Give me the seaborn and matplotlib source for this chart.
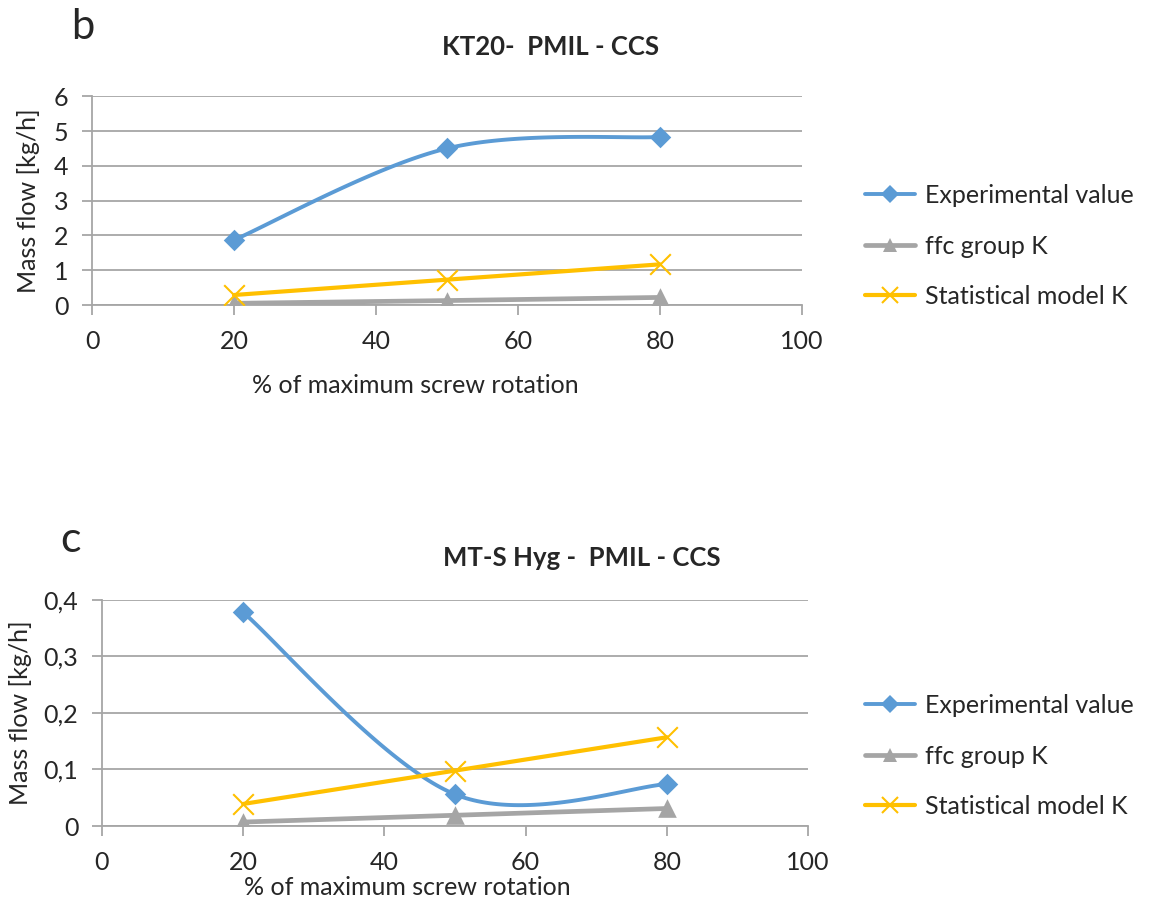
import numpy as np
import pandas as pd
import seaborn as sns
import matplotlib.pyplot as plt
from matplotlib.lines import Line2D
from matplotlib.ticker import FuncFormatter

# Datos
rotation = [20, 50, 80]
series_names = ["Experimental value", "ffc group K", "Statistical model K"]

kt20_exp = [1.87, 4.50, 4.83]
kt20_ffc = [0.05, 0.13, 0.22]
kt20_stat = [0.29, 0.73, 1.17]

mts_exp = [0.378, 0.056, 0.074]
mts_ffc = [0.007, 0.019, 0.031]
mts_stat = [0.039, 0.098, 0.157]

colors = {"Experimental value": "#5B9BD5", "ffc group K": "#A5A5A5",
          "Statistical model K": "#FFC000"}
markers = {"Experimental value": "D", "ffc group K": "^", "Statistical model K": "x"}
widths = {"Experimental value": 2.8, "ffc group K": 3.4, "Statistical model K": 3.0}
smooth = {"Experimental value": True, "ffc group K": False, "Statistical model K": False}
msize = {"Experimental value": 120, "ffc group K": 180, "Statistical model K": 220}

sns.set_style("white")
plt.rcParams["font.family"] = ["Lato", "DejaVu Sans"]
FS = 18


def excel_smooth(xs, ys, n=60):
    # curva Bezier tipo Excel (Catmull-Rom) entre los puntos
    px = np.array(xs, float)
    py = np.array(ys, float)
    m = len(px)
    ox, oy = [], []
    for i in range(m - 1):
        i0, i3 = max(i - 1, 0), min(i + 2, m - 1)
        c1x = px[i] + (px[i + 1] - px[i0]) / 6
        c1y = py[i] + (py[i + 1] - py[i0]) / 6
        c2x = px[i + 1] - (px[i3] - px[i]) / 6
        c2y = py[i + 1] - (py[i3] - py[i]) / 6
        t = np.linspace(0, 1, n)
        b0, b1, b2, b3 = (1 - t) ** 3, 3 * (1 - t) ** 2 * t, 3 * (1 - t) * t ** 2, t ** 3
        ox.extend(b0 * px[i] + b1 * c1x + b2 * c2x + b3 * px[i + 1])
        oy.extend(b0 * py[i] + b1 * c1y + b2 * c2y + b3 * py[i + 1])
    return ox, oy


def draw_panel(ax, values, ymax, ystep, fmt):
    for name, ys in zip(series_names, values):
        if smooth[name]:
            cx, cy = excel_smooth(rotation, ys)
        else:
            cx, cy = rotation, ys
        sns.lineplot(x=cx, y=cy, ax=ax, color=colors[name], lw=widths[name],
                     sort=False, zorder=3)
        mk = markers[name]
        sns.scatterplot(x=rotation, y=ys, ax=ax, color=colors[name], marker=mk,
                        s=msize[name], linewidth=1.5 if mk == "x" else 0, zorder=4)
    ax.set_xlim(0, 100)
    ax.set_ylim(0, ymax)
    ax.set_xticks(range(0, 101, 20))
    ax.set_yticks(np.arange(0, ymax + ystep / 2, ystep))
    ax.yaxis.set_major_formatter(FuncFormatter(fmt))
    ax.grid(axis="y", color="#A6A6A6", lw=1.3)
    ax.set_axisbelow(True)
    for s in ["top", "right"]:
        ax.spines[s].set_visible(False)
    for s in ["left", "bottom"]:
        ax.spines[s].set_color("#A6A6A6")
        ax.spines[s].set_linewidth(1.3)
    ax.tick_params(axis="both", labelsize=FS, color="#A6A6A6", width=1.3,
                   length=7, direction="out", bottom=True, left=True)
    ax.tick_params(axis="x", pad=11)
    ax.tick_params(axis="y", pad=10)
    ax.set_ylabel("Mass flow [kg/h]", fontsize=FS)
    ax.set_xlabel("% of maximum screw rotation", fontsize=FS)


fig = plt.figure(figsize=(11.52, 9.08), dpi=100)
ax1 = fig.add_axes([0.0799, 0.664, 0.616, 0.230])
ax2 = fig.add_axes([0.0885, 0.0903, 0.613, 0.249])

draw_panel(ax1, [kt20_exp, kt20_ffc, kt20_stat], 6, 1, lambda v, p: f"{v:.0f}")
draw_panel(ax2, [mts_exp, mts_ffc, mts_stat], 0.4, 0.1,
           lambda v, p: "0" if abs(v) < 1e-9 else f"{v:.1f}".replace(".", ","))

ax1.xaxis.set_label_coords(0.455, -0.33)
ax1.yaxis.set_label_coords(-0.073, 0.5)
ax2.xaxis.set_label_coords(0.433, -0.222)
ax2.yaxis.set_label_coords(-0.099, 0.5)

fig.text(551 / 1152, 1 - 47 / 908, "KT20-  PMIL - CCS", ha="center", va="center",
         fontsize=18.5, fontweight="bold")
fig.text(582 / 1152, 1 - 558 / 908, "MT-S Hyg -  PMIL - CCS", ha="center", va="center",
         fontsize=18.5, fontweight="bold")
fig.text(83 / 1152, 1 - 27 / 908, "b", ha="center", va="center", fontsize=30)
fig.text(71 / 1152, 1 - 540 / 908, "c", ha="center", va="center", fontsize=31)

handles = [Line2D([], [], color=colors[n], lw=widths[n], marker=markers[n],
                  markersize=np.sqrt(msize[n]) * 0.8,
                  markeredgewidth=1.5 if markers[n] == "x" else 0) for n in series_names]
for ax, ytop in [(ax1, 184), (ax2, 694)]:
    ax.legend(handles, series_names, loc="upper left", frameon=False, fontsize=FS,
              bbox_to_anchor=(865 / 1152, 1 - ytop / 908), bbox_transform=fig.transFigure,
              labelspacing=1.1, handlelength=2.0, handletextpad=0.4, borderpad=0,
              borderaxespad=0)

fig.savefig("out.png", dpi=100)
